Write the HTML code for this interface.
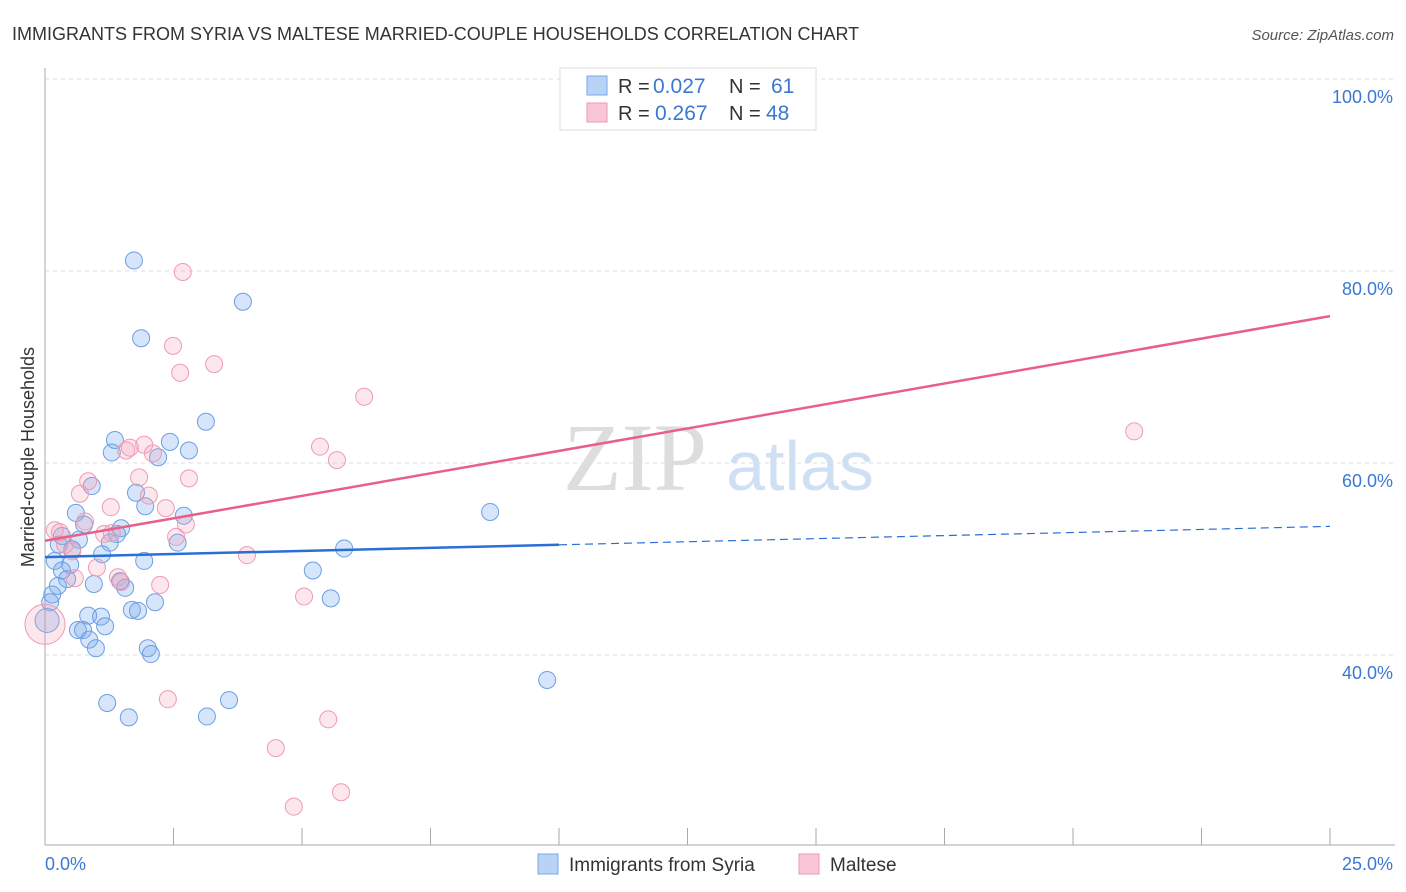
<!DOCTYPE html>
<html><head><meta charset="utf-8"><style>
body{margin:0;background:#fff;font-family:"Liberation Sans",sans-serif;}
svg{display:block}
</style></head><body>
<svg id="chart" width="1406" height="892">
<text x="12" y="40" font-size="18" fill="#333">IMMIGRANTS FROM SYRIA VS MALTESE MARRIED-COUPLE HOUSEHOLDS CORRELATION CHART</text>
<text x="1394" y="40" font-size="15" fill="#555" font-style="italic" text-anchor="end">Source: ZipAtlas.com</text>
<text x="0" y="0" transform="translate(34,457) rotate(-90)" font-size="18" fill="#333" text-anchor="middle">Married-couple Households</text>
<g><text x="635" y="490" font-size="96" font-family="Liberation Serif,serif" fill="#ddd" text-anchor="middle">ZIP</text><text x="800" y="490" font-size="70" fill="#cfe0f5" text-anchor="middle">atlas</text></g>
<g id="grid"></g><g id="marks"></g>
<g>
<rect x="560" y="68" width="256" height="62" fill="#fff" stroke="#ddd"/>
<rect x="587" y="76" width="20" height="19" fill="#b8d3f5" stroke="#7aa9e8"/>
<rect x="587" y="103" width="20" height="19" fill="#f9c6d5" stroke="#ef9ab4"/>
<text x="618" y="93" font-size="20" fill="#333">R =</text>
<text x="653" y="93" font-size="21" fill="#3a78d4">0.027</text>
<text x="729" y="93" font-size="20" fill="#333">N =</text>
<text x="771" y="93" font-size="21" fill="#3a78d4">61</text>
<text x="618" y="120" font-size="20" fill="#333">R =</text>
<text x="655" y="120" font-size="21" fill="#3a78d4">0.267</text>
<text x="729" y="120" font-size="20" fill="#333">N =</text>
<text x="766" y="120" font-size="21" fill="#3a78d4">48</text>
</g>
<g>
<rect x="538" y="854" width="20" height="20" fill="#b8d3f5" stroke="#7aa9e8"/>
<text x="569" y="871" font-size="19" fill="#333">Immigrants from Syria</text>
<rect x="799" y="854" width="20" height="20" fill="#f9c6d5" stroke="#ef9ab4"/>
<text x="830" y="871" font-size="19" fill="#333">Maltese</text>
</g>
</svg>
<script>
const xTickLabels=["0.0%","25.0%"];
const yTicks=[40,60,80,100];
const blueX=[1.73,3.85,1.87,3.13,1.36,2.43,1.30,2.20,2.80,0.91,1.77,1.95,8.66,0.60,2.70,0.76,1.48,0.33,1.40,1.26,2.58,0.27,0.66,0.53,1.11,5.82,0.19,1.93,0.49,5.21,0.33,0.43,1.46,0.25,0.95,1.56,0.14,0.10,2.14,5.56,1.69,1.81,0.84,1.09,0.04,1.17,0.64,0.74,0.86,0.99,2.00,2.06,9.77,1.21,3.58,1.63,3.15];
const blueY=[81.1,76.8,73.0,64.3,62.4,62.2,61.1,60.6,61.3,57.6,56.9,55.5,54.9,54.8,54.5,53.6,53.2,52.4,52.6,51.7,51.7,51.5,52.0,51.0,50.5,51.1,49.8,49.8,49.4,48.8,48.8,47.9,47.7,47.2,47.4,47.0,46.3,45.5,45.5,45.9,44.7,44.6,44.1,44.0,43.6,43.0,42.6,42.6,41.6,40.7,40.7,40.1,37.4,35.0,35.3,33.5,33.6];
const pinkX=[14.32,2.68,2.49,2.63,3.29,6.21,21.19,5.35,1.93,1.65,1.58,2.10,5.68,0.84,1.83,2.80,0.68,2.02,1.28,2.35,0.78,2.74,0.19,0.29,1.15,1.30,2.55,0.39,0.53,3.93,1.01,0.58,1.42,1.48,2.24,5.04,0.0,2.39,5.51,4.49,5.76,4.84];
const pinkY=[100.2,79.9,72.2,69.4,70.3,66.9,63.3,61.7,61.9,61.6,61.3,61.0,60.3,58.1,58.5,58.4,56.8,56.6,55.4,55.3,53.9,53.6,53.0,52.8,52.6,52.7,52.3,51.5,50.8,50.4,49.1,48.0,48.1,47.6,47.3,46.1,43.2,35.4,33.3,30.3,25.7,24.2];
const blueTrend=[50.2,53.4], pinkTrend=[51.9,75.3];
const X0=45,X1=1330,YT=655,YB=463;
const sx=v=>X0+(X1-X0)*v/25;
const sy=v=>YT-(v-40)*(YT-YB)/20;
const NS="http://www.w3.org/2000/svg";
function mk(t,a,p){const e=document.createElementNS(NS,t);for(const k in a)e.setAttribute(k,a[k]);p.appendChild(e);return e;}
const g=document.getElementById('grid'),m=document.getElementById('marks');
yTicks.forEach(t=>{
 const l=mk('line',{x1:45,x2:1395,y1:sy(t),y2:sy(t),stroke:'#ddd','stroke-dasharray':'4,4'},g);
 
 
 const tx=mk('text',{x:1393,y:sy(t)+24,'font-size':18,fill:'#3a78d4','text-anchor':'end'},g);
 tx.textContent=t.toFixed(1)+'%';
 
 
});
mk('line',{x1:45,x2:45,y1:68,y2:845,stroke:'#aaa'},g);
mk('line',{x1:45,x2:1395,y1:845,y2:845,stroke:'#aaa'},g);
for(let i=0;i<=10;i++){const x=sx(i*2.5);const l=mk('line',{x1:x,x2:x,y1:828,y2:845,stroke:'#aaa'},g);
 
 }
[[0,'start',45],[1,'end',1393]].forEach(([i,a,x])=>{const t=mk('text',{x:x,y:870,'font-size':18,fill:'#3a78d4','text-anchor':a},g);t.textContent=xTickLabels[i];
 
 });
blueX.forEach((x,i)=>{const c=mk('circle',{cx:sx(x),cy:sy(blueY[i]),r:x<0.06?12:8.5,fill:'rgba(120,170,235,0.3)',stroke:'#6b9fe3','stroke-width':1},m);
 
 });
pinkX.forEach((x,i)=>{const c=mk('circle',{cx:sx(x),cy:sy(pinkY[i]),r:x<0.05?20:8.5,fill:'rgba(245,160,185,0.25)',stroke:'#f09ab4','stroke-width':1},m);
 
 });
const by=x=>blueTrend[0]+(blueTrend[1]-blueTrend[0])*x/25;
let l=mk('line',{x1:sx(0),y1:sy(by(0)),x2:sx(10),y2:sy(by(10)),stroke:'#2a6fd6','stroke-width':2.5},m);


l=mk('line',{x1:sx(10),y1:sy(by(10)),x2:sx(25),y2:sy(by(25)),stroke:'#2a6fd6','stroke-width':1.2,'stroke-dasharray':'8,5'},m);


l=mk('line',{x1:sx(0),y1:sy(pinkTrend[0]),x2:sx(25),y2:sy(pinkTrend[1]),stroke:'#e8608a','stroke-width':2.5},m);


</script>
</body></html>
